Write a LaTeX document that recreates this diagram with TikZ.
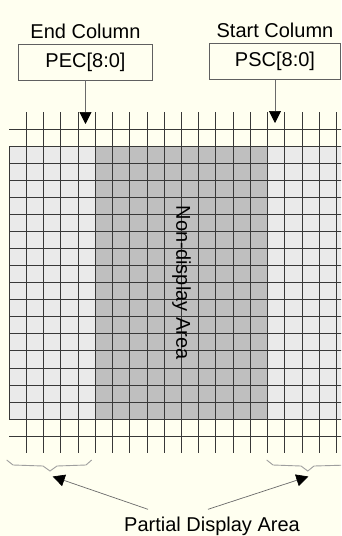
\documentclass[tikz,border=0pt]{standalone}
\usepackage{fontspec}
\setmainfont{Liberation Sans}
\usepackage{tikz}
\usetikzlibrary{
  arrows.meta,
  positioning,
  calc
}
\definecolor{paper}{HTML}{FFFFF0}
\definecolor{lightcell}{HTML}{EAEAEA}
\definecolor{darkcell}{HTML}{BFBFBF}
\definecolor{gridline}{HTML}{383838}

\begin{document}
\begin{tikzpicture}[x=1pt, y=-1pt,
  every node/.style={align=center, inner sep=0pt, font=\fontsize{20}{23}\selectfont},
  regbox/.style={draw=gridline!80, line width=0.7pt, minimum height=36pt},
  pointer/.style={draw=gridline!75, line width=0.7pt, -{Triangle[length=12pt,width=12pt,color=black]}},
  brace/.style={draw=gray!75, line width=0.9pt},
  gridrule/.style={draw=gridline, line width=1pt}]
  \fill[paper] (0,0) rectangle (341,536);
  \useasboundingbox (0,0) rectangle (341,536);
  \begin{scope}
    \clip (0,0) rectangle (341,536);
    % panel: partial display areas light, non-display area dark
    \fill[lightcell] (9.3,146) rectangle (345,419.3);
    \fill[darkcell] (95.4,146) rectangle (267.6,419.3);
    \foreach \j in {0,...,16}
      \draw[gridrule] (9.3,{146+17.08*\j}) -- (345,{146+17.08*\j});
    \foreach \i in {0,...,19}
      \draw[gridrule] ({9.3+17.22*\i},146) -- ({9.3+17.22*\i},419.3);
    % lines running past the panel
    \foreach \i in {1,...,19} {
      \draw[gridrule] ({9.3+17.22*\i},112) -- ({9.3+17.22*\i},146);
      \draw[gridrule] ({9.3+17.22*\i},419.3) -- ({9.3+17.22*\i},453);
    }
    \draw[gridrule] (9.3,129.3) -- (345,129.3);
    \draw[gridrule] (9.3,436.7) -- (345,436.7);
    % braces under the partial areas
    \draw[brace] (6.7,460) -- (13,465) -- (43,466) -- (50,471) -- (57,466) -- (86,465) -- (91.7,460);
    \draw[brace] (266.7,460) -- (273,465) -- (301,466) -- (307.8,471) -- (314,466) -- (350,465);
  \end{scope}

  \node[rotate=-90] (nondisp) at (181.5,282.7) {Non-display Area};

  \node[regbox, minimum width=134pt] (pec) at (85.5,62) {PEC[8:0]};
  \node (endcol) [above=5pt of pec] {End Column};
  \node[regbox, minimum width=131pt] (psc) at (275,61.7) {PSC[8:0]};
  \node (startcol) [above=5pt of psc] {Start Column};

  \coordinate (pectip) at (85.5,124);
  \coordinate (psctip) at (275,123);
  \draw[pointer] (pec.south) -- (pectip);
  \draw[pointer] (psc.south) -- (psctip);

  \node[anchor=base] (part) at (212,531) {Partial Display Area};
  \coordinate (lbrace) at (52.7,476.5);
  \coordinate (rbrace) at (308.3,476.5);
  \draw[pointer] ([xshift=-64pt,yshift=7pt]part.north) -- (lbrace);
  \draw[pointer] ([xshift=-4pt,yshift=7pt]part.north) -- (rbrace);
\end{tikzpicture}
\end{document}
